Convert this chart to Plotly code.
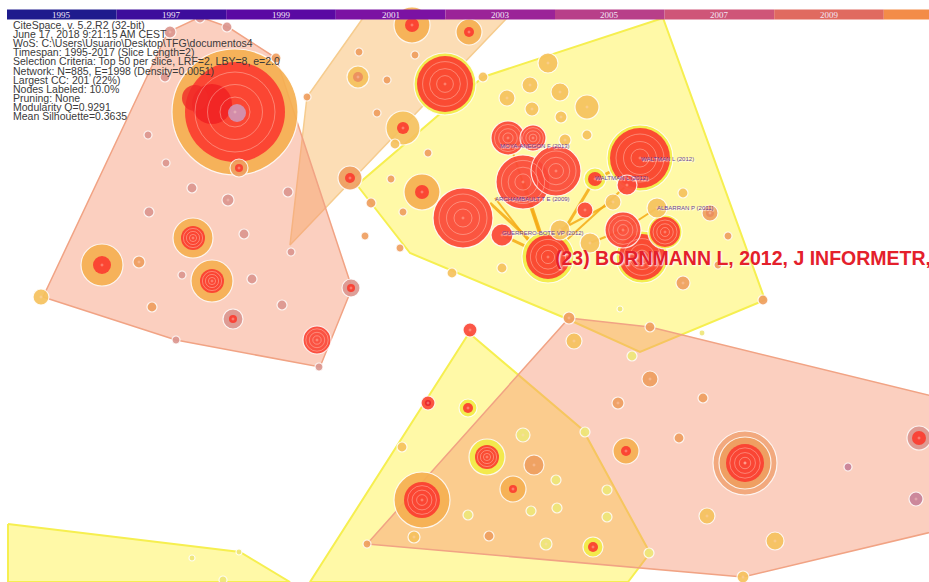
import plotly.graph_objects as go

W, H = 929, 582

# ---------------- data ----------------
years = ["1995", "1997", "1999", "2001", "2003", "2005", "2007", "2009", "2011"]
year_colors = ["#1e1b8d", "#3d0d9c", "#5a09a3", "#7b12a3", "#9b2398", "#b83f89",
               "#cf5578", "#e06a60", "#f38c48"]

info_lines = [
    "CiteSpace, v. 5.2.R2 (32-bit)",
    "June 17, 2018 9:21:15 AM CEST",
    "WoS: C:\\Users\\Usuario\\Desktop\\TFG\\documentos4",
    "Timespan: 1995-2017 (Slice Length=2)",
    "Selection Criteria: Top 50 per slice, LRF=2, LBY=8, e=2.0",
    "Network: N=885, E=1998 (Density=0.0051)",
    "Largest CC: 201 (22%)",
    "Nodes Labeled: 10.0%",
    "Pruning: None",
    "Modularity Q=0.9291",
    "Mean Silhouette=0.3635",
]

# cluster hulls (x list, y list)
hull_A_x = [43, 168, 200, 228, 276, 352, 320, 176]
hull_A_y = [297, 32, 17, 27, 58, 288, 367, 340]
hull_B_x = [363, 507, 290, 307]
hull_B_y = [18, 18, 245, 97]
hull_C_x = [483, 663, 765, 640, 565, 410, 357]
hull_C_y = [77, 18, 300, 352, 318, 253, 185]
hull_D_x = [469, 583, 650, 628, 310]
hull_D_y = [333, 430, 553, 582, 582]
hull_E_x = [569, 650, 940, 940, 743, 367]
hull_E_y = [318, 327, 398, 530, 577, 544]
hull_F_x = [8, 240, 290, 8]
hull_F_y = [524, 552, 582, 582]

# nodes: x, y, outer radius, ring colour key, core radius, core colour key
node_x = [235, 200, 227, 170, 165, 276, 148, 166, 239, 192, 228, 149, 288, 193, 244, 102, 139, 291,
          182, 212, 252, 41, 152, 282, 233, 176, 317, 319, 351,
          412, 469, 359, 415, 358, 387, 307, 377, 403, 395, 428, 350, 365,
          445, 483, 548, 530, 507, 560, 532, 561, 587, 587, 565, 508, 533, 556, 523, 640, 595, 627,
          422, 391, 371, 403, 400, 463, 502, 585, 613, 560, 590, 548, 623, 642, 665, 657, 683, 710,
          728, 718, 683, 763, 452, 502, 620, 569, 650, 702,
          470, 574, 632, 650, 428, 468, 618, 703, 402, 523, 585, 679, 487, 626, 534, 745, 745, 848,
          919, 916, 422, 513, 556, 607, 468, 531, 557, 607, 707, 775, 489, 414, 546, 593, 649, 743,
          367, 192, 239, 223]
node_y = [112, 18, 27, 32, 77, 58, 135, 163, 168, 188, 200, 212, 192, 238, 234, 265, 262, 252,
          275, 281, 279, 297, 307, 305, 319, 340, 340, 367, 288,
          25, 32, 52, 55, 77, 80, 97, 113, 128, 144, 153, 178, 236,
          84, 77, 63, 85, 98, 92, 109, 117, 107, 135, 140, 138, 138, 171, 182, 158, 179, 185,
          192, 179, 203, 212, 248, 218, 235, 210, 202, 230, 243, 257, 230, 257, 232, 208, 193, 213,
          236, 265, 283, 300, 273, 268, 309, 318, 327, 333,
          330, 341, 356, 379, 403, 408, 403, 398, 447, 435, 432, 438, 457, 451, 465, 463, 463, 467,
          438, 499, 500, 489, 480, 490, 515, 511, 508, 517, 516, 541, 536, 537, 544, 547, 553, 577,
          544, 558, 552, 580]
node_r = [63, 5, 5, 6, 5, 5, 4, 4, 9, 5, 6, 5, 5, 20, 5, 21, 6, 4,
          4, 21, 5, 8, 5, 5, 10, 4, 14, 4, 9,
          18, 13, 4, 4, 11, 4, 4, 4, 17, 5, 4, 12, 4,
          31, 5, 10, 8, 8, 9, 7, 6, 12, 5, 6, 17, 13, 25, 27, 33, 11, 10,
          18, 4, 5, 4, 4, 30, 11, 8, 8, 10, 10, 26, 18, 26, 17, 10, 5, 8,
          4, 4, 7, 5, 5, 5, 3, 6, 5, 3,
          7, 8, 5, 8, 7, 9, 6, 5, 5, 7, 5, 5, 18, 13, 10, 32, 26, 4,
          12, 7, 28, 13, 5, 5, 5, 5, 5, 5, 8, 9, 5, 6, 6, 10, 5, 6,
          4, 3, 3, 4]
node_ring = ["O", "D", "D", "D", "D", "A", "D", "D", "A", "D", "D", "D", "D", "O", "D", "O", "A", "D",
             "D", "O", "D", "S", "A", "D", "D", "D", "R", "D", "D",
             "O", "O", "A", "A", "S", "A", "A", "A", "S", "S", "A", "A", "A",
             "Y", "S", "S", "S", "S", "S", "S", "S", "S", "S", "S", "R", "R", "R", "R", "Y", "Y", "R",
             "O", "A", "A", "A", "A", "R", "R", "R", "S", "S", "S", "Y", "R", "Y", "Y", "S", "S", "A",
             "A", "A", "A", "A", "S", "S", "L", "A", "A", "L",
             "R", "S", "L", "A", "R", "Y", "A", "A", "S", "L", "L", "A", "Y", "O", "A", "P", "A", "M",
             "D", "M", "O", "O", "L", "L", "L", "L", "L", "L", "S", "S", "A", "S", "L", "Y", "L", "S",
             "A", "L", "L", "L"]
node_core_r = [50, 0, 0, 0, 0, 0, 0, 0, 4, 0, 0, 0, 0, 12, 0, 9, 0, 0,
               0, 12, 0, 0, 0, 0, 4, 0, 0, 0, 4,
               7, 5, 0, 0, 5, 0, 0, 0, 6, 0, 0, 5, 0,
               28, 0, 0, 0, 0, 0, 0, 0, 0, 0, 0, 0, 0, 0, 0, 30, 7, 0,
               7, 0, 0, 0, 0, 0, 0, 0, 0, 0, 0, 22, 0, 23, 15, 0, 0, 4,
               0, 0, 0, 0, 0, 0, 0, 0, 0, 0,
               0, 0, 0, 0, 3, 5, 0, 0, 0, 0, 0, 0, 12, 5, 0, 0, 19, 0,
               7, 0, 18, 4, 0, 0, 0, 0, 0, 0, 0, 0, 0, 0, 0, 5, 0, 0,
               0, 0, 0, 0]
node_core = ["R", "", "", "", "", "", "", "", "R", "", "", "", "", "R", "", "R", "", "",
             "", "R", "", "", "", "", "R", "", "", "", "R",
             "R", "R", "", "", "A", "", "", "", "R", "", "", "R", "",
             "R", "", "", "", "", "", "", "", "", "", "", "", "", "", "", "R", "R", "",
             "R", "", "", "", "", "", "", "", "", "", "", "R", "", "R", "R", "", "", "A",
             "", "", "", "", "", "", "", "", "", "",
             "", "", "", "", "D", "R", "", "", "", "", "", "", "R", "R", "", "", "R", "",
             "R", "", "R", "R", "", "", "", "", "", "", "", "", "", "", "", "R", "", "",
             "", "", "", ""]

# details inside the biggest node
spot_x = [212, 195, 237]
spot_y = [104, 98, 113]
spot_r = [20, 13, 9]
spot_c = ["#f01e22", "#f02a28", "#c9a0c8"]

# citation links
link_x0 = [548, 548, 548, 495, 548, 595, 560, 590, 623, 502, 548]
link_y0 = [257, 257, 257, 198, 257, 179, 230, 243, 230, 235, 257]
link_x1 = [523, 490, 508, 533, 595, 640, 613, 623, 657, 548, 627]
link_y1 = [182, 203, 138, 247, 179, 158, 202, 230, 208, 257, 185]
link_w = [4, 3, 2, 2, 3, 3, 2, 2, 2, 3, 2]

labels = ["MOYA-ANEGON F (2013)", "WALTMAN L (2012)", "WALTMAN L (2012)",
          "ARCHAMBAULT T E (2009)", "ALBARRAN P (2011)", "GUERRERO-BOTE VP (2012)"]
label_x = [500, 641, 595, 495, 657, 502]
label_y = [146, 159, 178, 199, 208, 233]

big_label = "(23) BORNMANN L, 2012, J INFORMETR,"

# ---------------- styles ----------------
ring_colors = {"O": "#f6b052", "Y": "#f3ec48", "P": "#f2a679", "S": "#f6c25e", "L": "#efe77a",
               "D": "#dc9790", "A": "#ef9f60", "R": "#fb4838", "M": "#c98298"}
core_colors = {"R": "#fb3d30", "D": "#e6232b", "A": "#ea8d5e"}

fig = go.Figure()

def hull(xs, ys, fill, line, lw=1.5):
    fig.add_trace(go.Scatter(x=xs + [xs[0]], y=ys + [ys[0]], mode="lines", fill="toself",
                             fillcolor=fill, line=dict(color=line, width=lw),
                             hoverinfo="skip", showlegend=False))

YEL = "rgba(255,244,80,0.5)"
hull(hull_C_x, hull_C_y, YEL, "#f6ef50", 2)
hull(hull_B_x, hull_B_y, "rgba(250,188,108,0.5)", "#f6cc8e", 1.5)
hull(hull_A_x, hull_A_y, "rgba(246,148,112,0.45)", "#f1a384", 1.5)
hull(hull_D_x, hull_D_y, YEL, "#f6ef50", 2)
hull(hull_E_x, hull_E_y, "rgba(246,148,112,0.45)", "#f1a384", 1.5)
hull(hull_F_x, hull_F_y, YEL, "#f6ef50", 2)

# links
for x0, y0, x1, y1, w in zip(link_x0, link_y0, link_x1, link_y1, link_w):
    fig.add_trace(go.Scatter(x=[x0, x1], y=[y0, y1], mode="lines",
                             line=dict(color="rgba(245,170,20,0.85)", width=w),
                             hoverinfo="skip", showlegend=False))

# nodes: ring then core, largest first
order = sorted(range(len(node_x)), key=lambda i: -node_r[i])
px, py, ps, pc, plw = [], [], [], [], []
rx, ry, rs = [], [], []
for i in order:
    px.append(node_x[i]); py.append(node_y[i]); ps.append(2 * node_r[i])
    pc.append(ring_colors[node_ring[i]]); plw.append(1.2)
    if node_core_r[i] > 0:
        px.append(node_x[i]); py.append(node_y[i]); ps.append(2 * node_core_r[i])
        pc.append(core_colors[node_core[i]]); plw.append(0)
    inner = node_core_r[i] if node_core_r[i] > 0 else (node_r[i] if node_ring[i] == "R" else 0)
    if inner >= 12:
        for f in (0.8, 0.55, 0.3):
            rx.append(node_x[i]); ry.append(node_y[i]); rs.append(2 * inner * f)
    if node_r[i] >= 6:
        rx.append(node_x[i]); ry.append(node_y[i]); rs.append(2)

fig.add_trace(go.Scatter(x=px, y=py, mode="markers",
                         marker=dict(size=ps, color=pc, opacity=0.92,
                                     line=dict(color="rgba(255,255,255,0.9)", width=plw)),
                         hoverinfo="skip", showlegend=False))
fig.add_trace(go.Scatter(x=spot_x, y=spot_y, mode="markers",
                         marker=dict(size=[2 * r for r in spot_r], color=spot_c, opacity=0.8,
                                     line=dict(width=0)),
                         hoverinfo="skip", showlegend=False))
fig.add_trace(go.Scatter(x=rx, y=ry, mode="markers",
                         marker=dict(size=rs, symbol="circle-open",
                                     color="rgba(255,215,200,0.6)", line=dict(width=1)),
                         hoverinfo="skip", showlegend=False))

# small labels
fig.add_trace(go.Scatter(x=label_x, y=label_y, mode="text", text=labels, textposition="middle right",
                         textfont=dict(family="Liberation Sans, Arial", size=6, color="#6a3f9e",
                                       shadow="1px 1px 1px #fff"),
                         hoverinfo="skip", showlegend=False))

shapes = []
annotations = []
seg_w = 109.6
for k, (yr, col) in enumerate(zip(years, year_colors)):
    x0 = 7 + k * seg_w
    shapes.append(dict(type="rect", xref="x", yref="y", x0=x0, x1=min(x0 + seg_w, W), y0=9.5, y1=19.5,
                       fillcolor=col, line=dict(width=0), layer="above"))
    if k < 8:
        annotations.append(dict(x=x0 + seg_w / 2, y=14.5, text=yr, showarrow=False,
                                font=dict(family="Liberation Serif, DejaVu Serif", size=9,
                                          color="#f2e6f6"),
                                xanchor="center", yanchor="middle"))

for j, line in enumerate(info_lines):
    annotations.append(dict(x=11, y=25 + j * 9.1, text=line, showarrow=False,
                            xanchor="left", yanchor="middle",
                            font=dict(family="Liberation Sans, Arial", size=10.5, color="#3a3a3a")))

annotations.append(dict(x=553, y=258, text=big_label, showarrow=False, xanchor="left",
                        yanchor="middle",
                        font=dict(family="Liberation Sans, Arial", size=19.5, color="#e4202b",
                                  weight="bold", shadow="1px 1px 2px #fff")))

fig.update_layout(
    width=W, height=H, margin=dict(l=0, r=0, t=0, b=0),
    paper_bgcolor="white", plot_bgcolor="white",
    xaxis=dict(range=[0, W], visible=False, fixedrange=True),
    yaxis=dict(range=[H, 0], visible=False, fixedrange=True),
    shapes=shapes, annotations=annotations, showlegend=False,
)

fig.write_html("out.html")
